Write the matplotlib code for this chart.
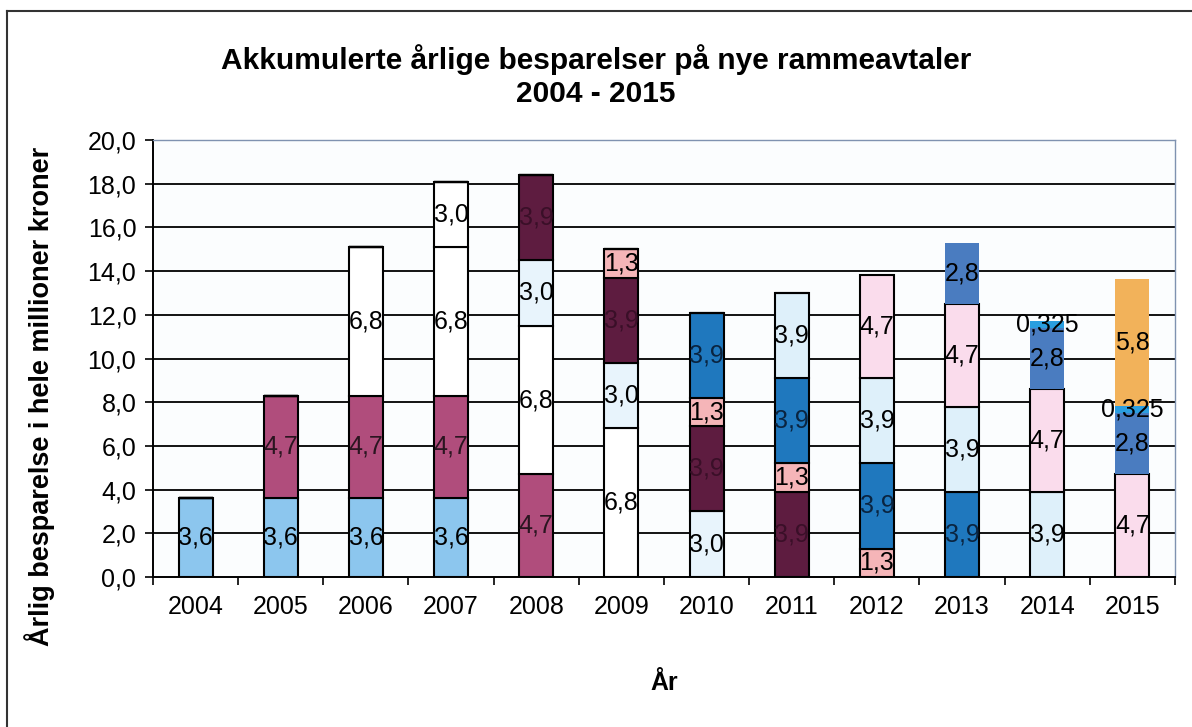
import numpy as np
import matplotlib
matplotlib.use("Agg")
import matplotlib.pyplot as plt
from matplotlib.lines import Line2D

plt.rcParams['font.family'] = ['Liberation Sans', 'DejaVu Sans']

years = ['2004', '2005', '2006', '2007', '2008', '2009',
         '2010', '2011', '2012', '2013', '2014', '2015']

# one row per avtale, one column per year
s_36a = [3.6, 3.6, 3.6, 3.6, 0, 0, 0, 0, 0, 0, 0, 0]
s_47a = [0, 4.7, 4.7, 4.7, 4.7, 0, 0, 0, 0, 0, 0, 0]
s_68 = [0, 0, 6.8, 6.8, 6.8, 6.8, 0, 0, 0, 0, 0, 0]
s_30 = [0, 0, 0, 3.0, 3.0, 3.0, 3.0, 0, 0, 0, 0, 0]
s_39a = [0, 0, 0, 0, 3.9, 3.9, 3.9, 3.9, 0, 0, 0, 0]
s_13 = [0, 0, 0, 0, 0, 1.3, 1.3, 1.3, 1.3, 0, 0, 0]
s_39b = [0, 0, 0, 0, 0, 0, 3.9, 3.9, 3.9, 3.9, 0, 0]
s_39c = [0, 0, 0, 0, 0, 0, 0, 3.9, 3.9, 3.9, 3.9, 0]
s_47b = [0, 0, 0, 0, 0, 0, 0, 0, 4.7, 4.7, 4.7, 4.7]
s_28 = [0, 0, 0, 0, 0, 0, 0, 0, 0, 2.8, 2.8, 2.8]
s_0325 = [0, 0, 0, 0, 0, 0, 0, 0, 0, 0, 0.325, 0.325]
s_58 = [0, 0, 0, 0, 0, 0, 0, 0, 0, 0, 0, 5.8]

series = [s_36a, s_47a, s_68, s_30, s_39a, s_13, s_39b, s_39c, s_47b, s_28, s_0325, s_58]
seg_text = ['3,6', '4,7', '6,8', '3,0', '3,9', '1,3', '3,9', '3,9', '4,7', '2,8', '0,325', '5,8']
colors = ['#8cc6ee', '#b04d7c', '#ffffff',
          ['#ffffff'] * 4 + ['#e8f4fc'] * 8,  # the 3,0 avtale is white in 2007
          '#5e1c40', '#f5b5b8',
          '#1f78be', '#def0fa', '#fadcec', '#4a7cc0', '#2a9ee0', '#f2b25a']
edged = [True, True, True, True, True, True, True, True, True, False, False, False]
text_colors = ['black', '#2a1520', 'black', 'black', '#3a0f28', 'black',
               '#0a2440', 'black', 'black', 'black', 'black', 'black']

fig = plt.figure(figsize=(11.92, 7.27), dpi=100)
ax = fig.add_axes([153 / 1192, 1 - 577 / 727, 1022 / 1192, 437 / 727])
ax.set_facecolor('#fbfdfe')

x = np.arange(len(years))
ax.set_xlim(-0.5, len(years) - 0.5)
ax.set_ylim(0, 20)

for y in range(2, 20, 2):
    ax.axhline(y, color='black', lw=1.3, zorder=1)

bottom = np.zeros(len(years))
for vals, lab, col, e, tc in zip(series, seg_text, colors, edged, text_colors):
    vals = np.array(vals)
    bars = ax.bar(x, vals, 0.4, bottom=bottom, color=col,
                  edgecolor='black' if e else 'none', linewidth=1.5 if e else 0,
                  zorder=2)
    ax.bar_label(bars, labels=[lab if v > 0 else '' for v in vals],
                 label_type='center', fontsize=18, color=tc, zorder=3)
    bottom += vals

ax.set_yticks(range(0, 21, 2))
ax.set_yticklabels(['%d,0' % v for v in range(0, 21, 2)], fontsize=18)
ax.set_xticks(x)
ax.set_xticklabels(years, fontsize=18)
ax.set_xticks(np.arange(-0.5, len(years)), minor=True)
ax.tick_params(axis='x', which='major', length=0, pad=13)
ax.tick_params(axis='x', which='minor', length=6, width=1.2, direction='out')
ax.tick_params(axis='y', length=6, width=1.2, direction='out', pad=6)

for side in ['left', 'bottom']:
    ax.spines[side].set_color('black')
    ax.spines[side].set_linewidth(1.4)
for side in ['top', 'right']:
    ax.spines[side].set_color('#7f92b0')
    ax.spines[side].set_linewidth(1.0)

fig.text(0.5, 1 - 76 / 727, 'Akkumulerte årlige besparelser på nye rammeavtaler\n2004 - 2015',
         ha='center', va='center', fontsize=21.5, fontweight='bold', linespacing=1.25)
fig.text(40 / 1192, 1 - 396 / 727, 'Årlig besparelse i hele millioner kroner',
         rotation=90, ha='center', va='center', fontsize=19.5, fontweight='bold')
fig.text(664 / 1192, 1 - 683 / 727, 'År', ha='center', va='center',
         fontsize=18, fontweight='bold')

# outer frame of the chart
fig.add_artist(Line2D([7 / 1192, 7 / 1192], [0, 1 - 11 / 727], color='#333333', lw=1.5))
fig.add_artist(Line2D([7 / 1192, 1], [1 - 11 / 727, 1 - 11 / 727], color='#333333', lw=1.5))

fig.savefig('out.png', dpi=100)
